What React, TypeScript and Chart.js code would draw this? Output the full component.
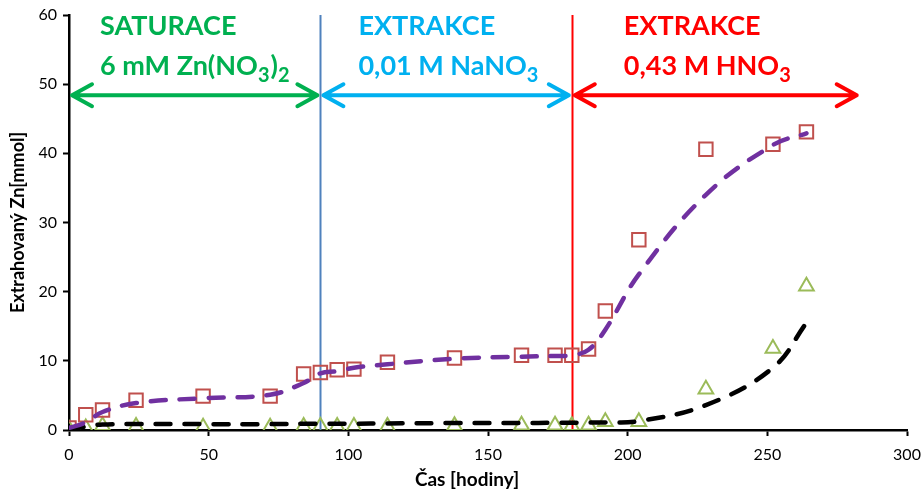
import React, { useEffect, useRef } from "react";
import { Chart, registerables } from "chart.js";

Chart.register(...registerables);

// ---- data ----
const timeHours = [0, 6, 12, 24, 48, 72, 84, 90, 96, 102, 114, 138, 162, 174, 180, 186, 192, 204, 228, 252, 264];
const znSquares = [0.3, 2.2, 2.9, 4.3, 4.9, 4.9, 8.1, 8.3, 8.7, 8.8, 9.8, 10.4, 10.8, 10.8, 10.8, 11.7, 17.2, 27.5, 40.6, 41.3, 43.1];
const znTriangles = [0.1, 0.3, 0.6, 0.5, 0.4, 0.4, 0.5, 0.5, 0.5, 0.5, 0.5, 0.6, 0.7, 0.7, 0.6, 0.7, 1.2, 1.2, 5.9, 11.8, 20.8];
const fitSquares = [0.3, 1.1, 2.6, 3.9, 4.6, 5.1, 6.8, 8.2, 8.5, 9.0, 9.5, 10.3, 10.6, 10.7, 10.8, 11.6, 14.5, 22.5, 34.0, 41.2, 42.9];
const fitTriangles = [0, 0.5, 0.8, 0.85, 0.85, 0.85, 0.9, 0.9, 0.9, 0.9, 0.95, 1.0, 1.0, 1.05, 1.05, 1.1, 1.1, 1.3, 3.6, 9.0, 15.5];

const xTickStep = 50;
const yTickStep = 10;
const xMax = 300;
const yMax = 60;
const xTitle = "Čas [hodiny]";
const yTitle = "Extrahovaný Zn[mmol]";

// phases: boundaries in hours, arrow level in mmol
const phaseBounds = [0, 90, 180, 282];
const arrowLevel = 48.4;
const dividerHours = [90, 180];
const dividerColors = ["#4F81BD", "#FF0000"];
const phaseColors = ["#00B050", "#00B0F0", "#FF0000"];
const phaseTitles = ["SATURACE", "EXTRAKCE", "EXTRAKCE"];
// each solution label: list of [text, isSubscript]
const phaseSolutions: [string, boolean][][] = [
  [["6 mM Zn(NO", false], ["3", true], [")", false], ["2", true]],
  [["0,01 M NaNO", false], ["3", true]],
  [["0,43 M HNO", false], ["3", true]],
];

const FONT = "Lato, 'Open Sans', sans-serif";

const annotationPlugin = {
  id: "phases",
  beforeDatasetsDraw(chart: any) {
    const { ctx, scales } = chart;
    const x = scales.x;
    const y = scales.y;
    ctx.save();
    dividerHours.forEach((h, i) => {
      const px = Math.round(x.getPixelForValue(h)) + 0.5;
      ctx.strokeStyle = dividerColors[i];
      ctx.lineWidth = 2;
      ctx.beginPath();
      ctx.moveTo(px, y.getPixelForValue(yMax));
      ctx.lineTo(px, y.getPixelForValue(0));
      ctx.stroke();
    });
    ctx.restore();
  },
  afterDatasetsDraw(chart: any) {
    const { ctx, scales } = chart;
    const x = scales.x;
    const y = scales.y;
    ctx.save();
    const ay = y.getPixelForValue(arrowLevel);
    const textLeftOffsets = [31, 38, 52];
    for (let i = 0; i < 3; i++) {
      const x0 = x.getPixelForValue(phaseBounds[i]) + 3;
      const x1 = x.getPixelForValue(phaseBounds[i + 1]) - (i < 2 ? 3 : 0);
      ctx.strokeStyle = phaseColors[i];
      ctx.lineWidth = 4;
      ctx.lineCap = "round";
      ctx.lineJoin = "round";
      ctx.beginPath();
      ctx.moveTo(x0, ay);
      ctx.lineTo(x1, ay);
      ctx.moveTo(x0 + 20, ay - 11);
      ctx.lineTo(x0, ay);
      ctx.lineTo(x0 + 20, ay + 11);
      ctx.moveTo(x1 - 20, ay - 11);
      ctx.lineTo(x1, ay);
      ctx.lineTo(x1 - 20, ay + 11);
      ctx.stroke();

      const tx = x.getPixelForValue(phaseBounds[i]) + textLeftOffsets[i];
      ctx.fillStyle = phaseColors[i];
      ctx.textAlign = "left";
      ctx.textBaseline = "alphabetic";
      ctx.font = `bold 27px ${FONT}`;
      ctx.fillText(phaseTitles[i], tx, y.getPixelForValue(0) - 395);
      let cx = tx;
      const base = y.getPixelForValue(0) - 355;
      for (const [t, sub] of phaseSolutions[i]) {
        ctx.font = sub ? `bold 20px ${FONT}` : `bold 27px ${FONT}`;
        ctx.fillText(t, cx, sub ? base + 7 : base);
        cx += ctx.measureText(t).width + (sub ? 1 : 0);
      }
    }
    // x axis title, centred as in the original (slightly left of plot centre)
    ctx.fillStyle = "#000";
    ctx.font = `bold 19px ${FONT}`;
    ctx.textAlign = "center";
    ctx.textBaseline = "middle";
    ctx.fillText(xTitle, x.getPixelForValue(142.5), chart.height - 12);
    ctx.restore();
  },
};

export default function App() {
  const ref = useRef<HTMLCanvasElement>(null);
  useEffect(() => {
    if (!ref.current) return;
    const pts = (ys: number[]) => timeHours.map((t, i) => ({ x: t, y: ys[i] }));
    const chart = new Chart(ref.current, {
      type: "scatter",
      data: {
        datasets: [
          {
            label: "fit1",
            data: pts(fitSquares),
            showLine: true,
            borderColor: "#7030A0",
            borderWidth: 4.5,
            borderDash: [15, 14],
            borderCapStyle: "round",
            pointRadius: 0,
            tension: 0.4,
          } as any,
          {
            label: "fit2",
            data: pts(fitTriangles),
            showLine: true,
            borderColor: "#000000",
            borderWidth: 4.5,
            borderDash: [15, 14],
            borderCapStyle: "round",
            pointRadius: 0,
            tension: 0.4,
          } as any,
          {
            label: "squares",
            data: pts(znSquares),
            pointStyle: "rect",
            pointRadius: 9.5,
            pointBorderWidth: 2,
            pointBorderColor: "#C0504D",
            pointBackgroundColor: "rgba(255,255,255,0)",
            showLine: false,
          },
          {
            label: "triangles",
            data: pts(znTriangles),
            pointStyle: "triangle",
            pointRadius: 8.5,
            pointBorderWidth: 2,
            pointBorderColor: "#9BBB59",
            pointBackgroundColor: "rgba(255,255,255,0)",
            showLine: false,
          },
        ],
      },
      options: {
        responsive: false,
        animation: false,
        layout: { padding: { top: 15, right: 15, left: 0, bottom: 0 } },
        plugins: { legend: { display: false }, tooltip: { enabled: false } },
        scales: {
          x: {
            type: "linear",
            min: 0,
            max: xMax,
            ticks: { stepSize: xTickStep, color: "#000", font: { family: FONT, size: 16 }, padding: 9 },
            grid: { drawOnChartArea: false, drawTicks: true, tickLength: 6, tickColor: "#000", tickWidth: 2 },
            border: { color: "#000", width: 2.5 },
            title: { display: false, text: xTitle },
            afterFit: (s: any) => { s.height = 62; s.paddingLeft = 0; s.paddingRight = 0; },
          },
          y: {
            type: "linear",
            min: 0,
            max: yMax,
            ticks: { stepSize: yTickStep, color: "#000", font: { family: FONT, size: 16 }, padding: 6 },
            grid: { drawOnChartArea: false, drawTicks: true, tickLength: 6, tickColor: "#000", tickWidth: 2 },
            border: { color: "#000", width: 2.5 },
            title: { display: true, text: yTitle, color: "#000", font: { family: FONT, size: 18, weight: "bold" }, padding: { top: 7, bottom: 0 } },
            afterFit: (s: any) => { s.width = 69; s.paddingTop = 0; s.paddingBottom = 0; },
          },
        },
      },
      plugins: [annotationPlugin],
    });
    return () => chart.destroy();
  }, []);
  return (
    <div style={{ position: "absolute", left: 0, top: 0, width: 922, height: 492, background: "#fff" }}>
      <canvas ref={ref} width={922} height={492} />
    </div>
  );
}
